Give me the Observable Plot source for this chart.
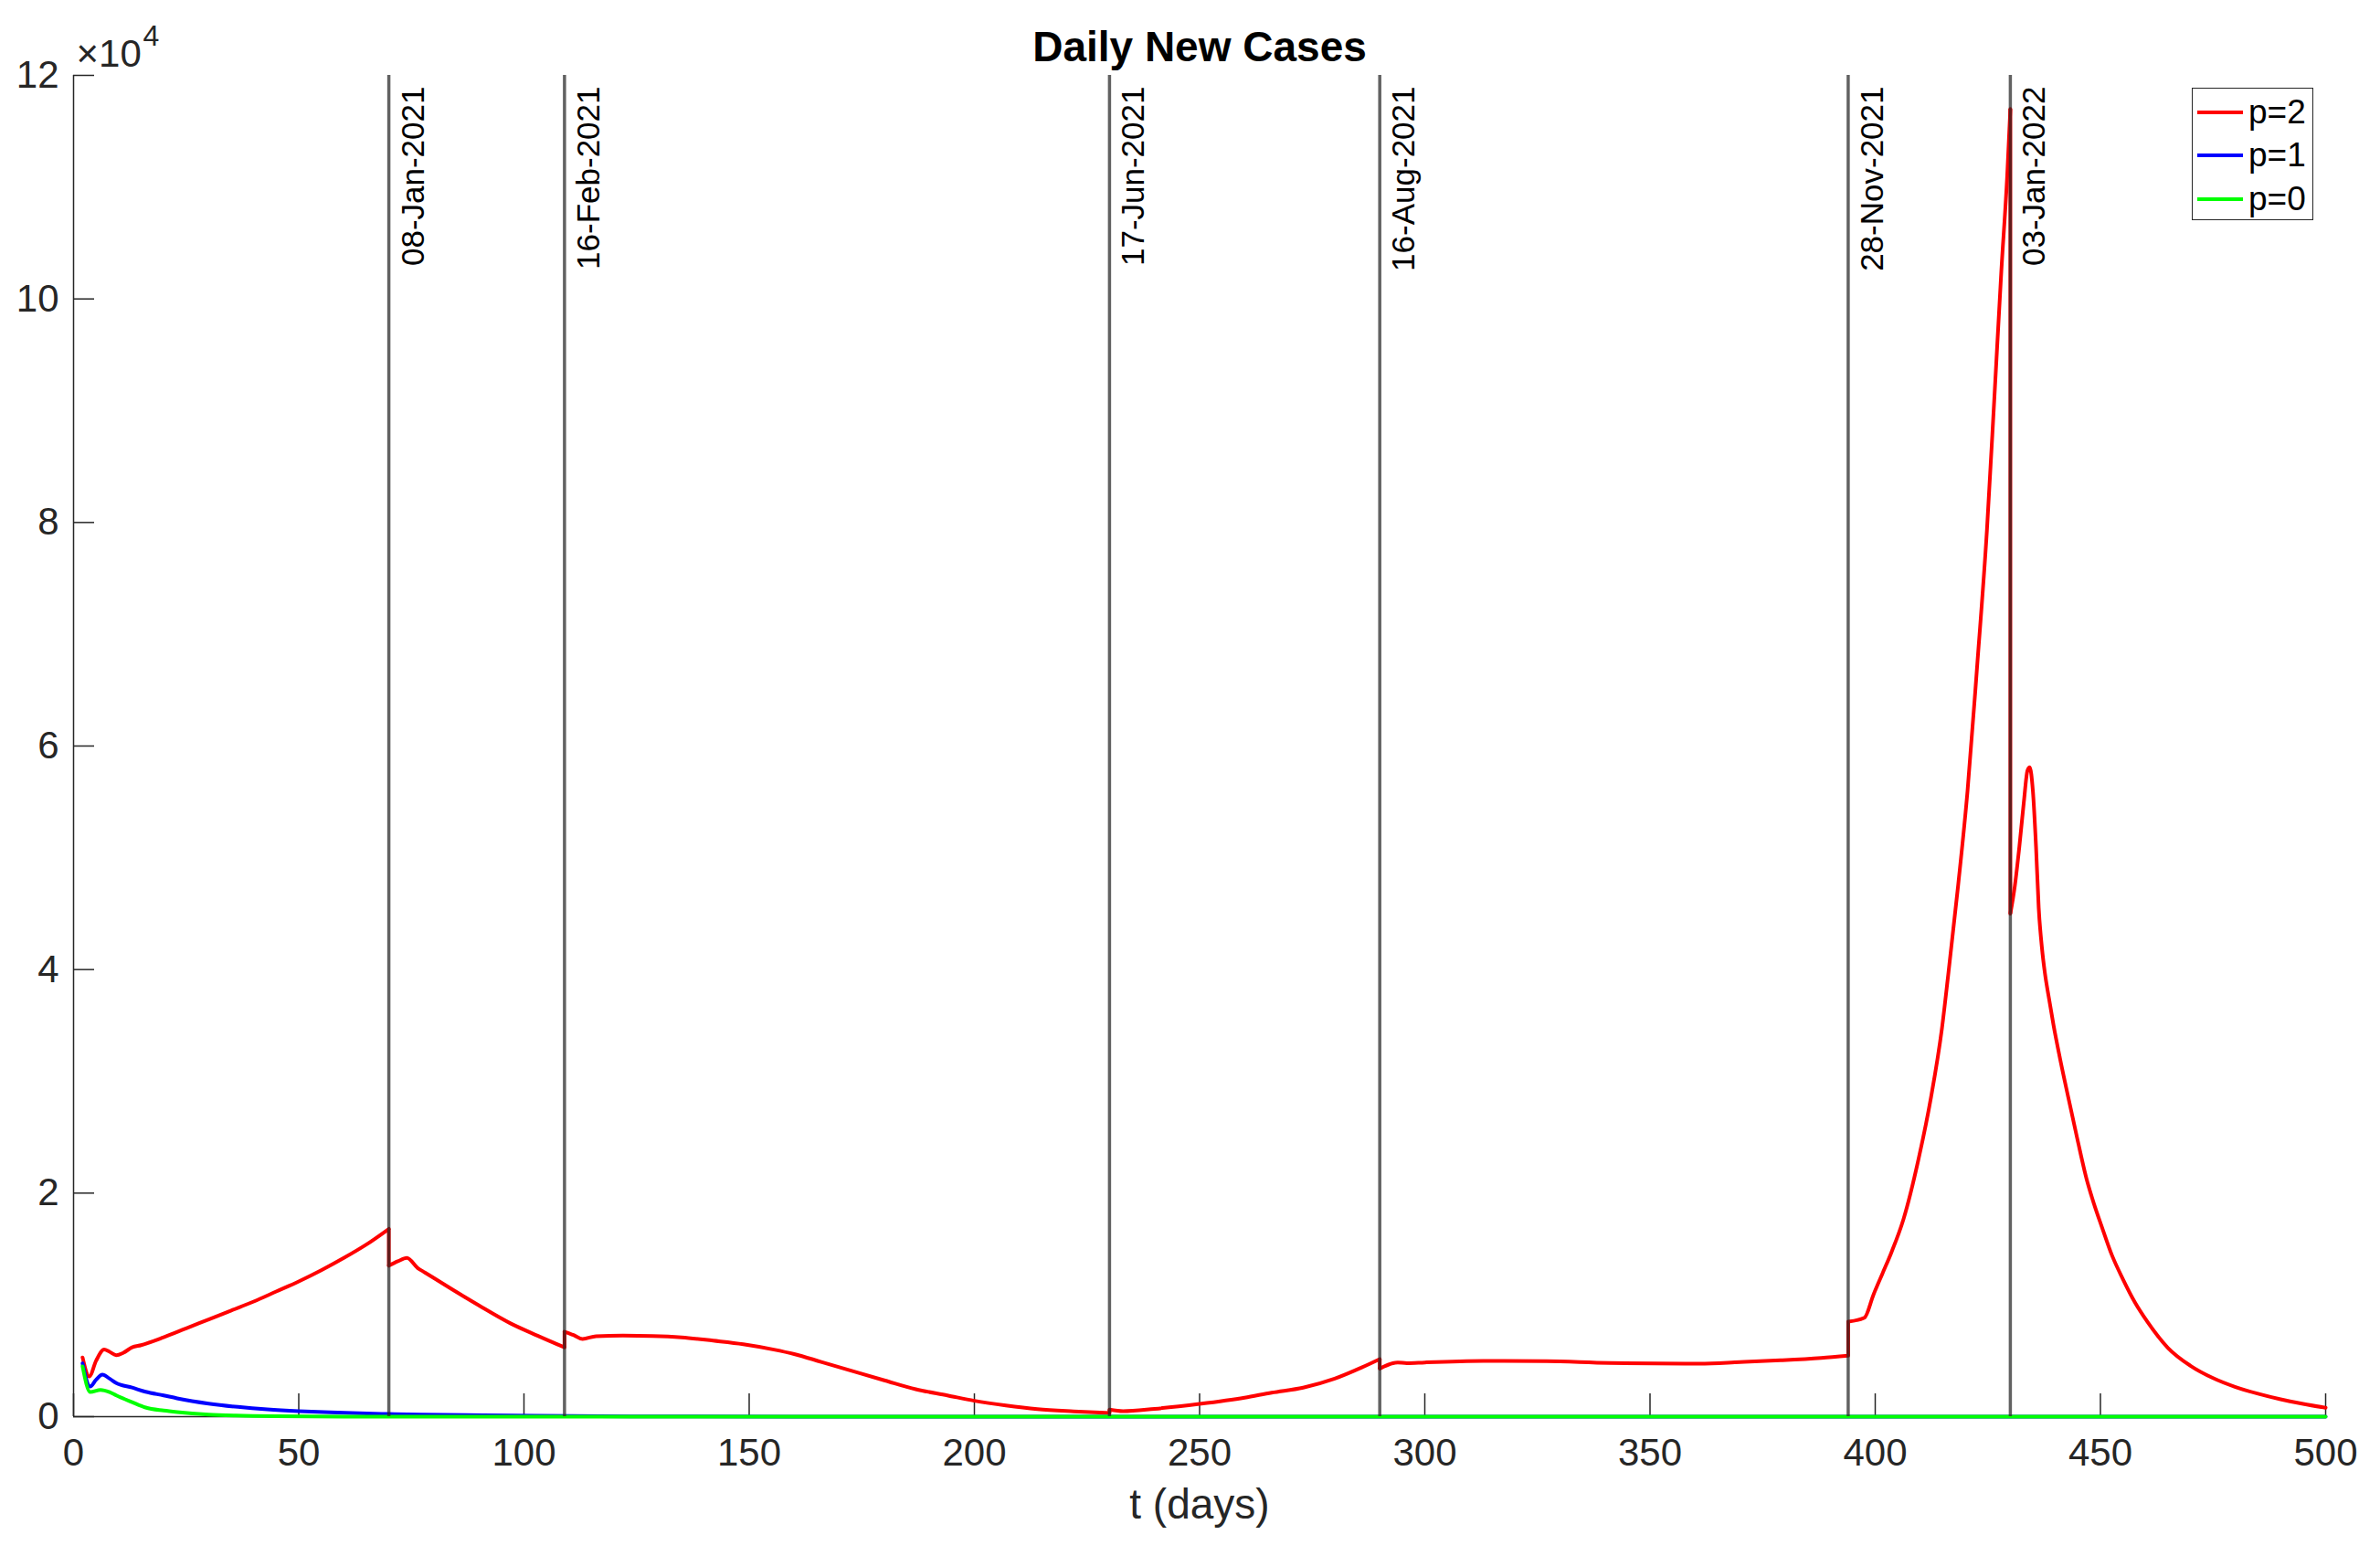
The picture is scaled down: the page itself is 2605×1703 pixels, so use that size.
<!DOCTYPE html>
<html>
<head>
<meta charset="utf-8">
<script src="https://cdn.jsdelivr.net/npm/d3@7"></script>
<script src="https://cdn.jsdelivr.net/npm/@observablehq/plot@0.6"></script>
<style>
  html, body { margin: 0; padding: 0; background: #fff; }
  #wrap { position: relative; width: 2605px; height: 1703px; font-family: "Liberation Sans", Arial, Helvetica, sans-serif; }
  #legend { position: absolute; left: 2399px; top: 96px; width: 133px; height: 145px; border: 1.5px solid #262626; background: #fff; box-sizing: border-box; }
  .lg-row { position: absolute; left: 0; height: 40px; display: flex; align-items: center; }
  .lg-sw { width: 50px; height: 4px; margin-left: 5px; margin-right: 6px; }
  .lg-tx { font-size: 37px; color: #000; line-height: 40px; }
</style>
</head>
<body>
<div id="wrap"></div>
<script>
// ---------- data ----------
const seriesNames = ["p=2", "p=1", "p=0"];
const seriesColors = ["#ff0000", "#0000ff", "#00ff00"];

const redDays = [2, 3.5, 5, 6.8, 8, 9.5, 11, 13, 15, 20, 25, 30, 35, 40, 45, 50, 55, 60, 65, 70,
  70, 72, 74, 76.4, 78, 84, 90, 97, 103, 109,
  109, 111, 113, 116, 122, 128.5, 135, 142, 148.7, 155.5, 160, 166, 174, 180, 187, 194, 200, 207, 214, 222, 230,
  230, 233, 240, 250, 260, 266, 273, 280, 286, 290,
  290, 294, 296, 300, 313, 327, 341, 361, 370, 379, 388, 394,
  394, 397.6, 399.6, 401.6, 403.6, 406.3, 409.7, 412.4, 414.8, 416.2, 418.4, 420.5, 422.6, 424.8, 426.5, 428, 429.3, 430,
  430, 431, 432, 433, 433.8, 434.3, 435, 435.7, 436.3, 437, 437.7, 438.5, 439.6, 441, 442.9, 444.9, 446.9, 448.6, 450.3, 452.5, 455, 457.7, 460.5, 465, 470, 475, 480, 485, 490, 495, 500];
const redCases = [5300, 3600, 5000, 6000, 5800, 5500, 5700, 6200, 6400, 7100, 7900, 8700, 9500, 10300, 11200, 12100, 13100, 14200, 15400, 16800,
  13500, 13900, 14200, 13300, 12900, 11400, 9950, 8350, 7250, 6200,
  7600, 7300, 6950, 7200, 7250, 7220, 7100, 6800, 6480, 6000, 5600, 4900, 3950, 3250, 2450, 1900, 1420, 1000, 680, 480, 330,
  630, 490, 700, 1140, 1700, 2150, 2600, 3400, 4400, 5150,
  4300, 4850, 4780, 4850, 4990, 4960, 4800, 4740, 4880, 5040, 5250, 5450,
  8500, 8850, 10900, 12800, 14700, 17700, 23200, 28600, 34700, 39500, 47500, 56000, 67000, 79300, 91500, 102500, 111000, 117000,
  45000, 47500, 51000, 55000, 57800, 58100, 56000, 51000, 45500, 42000, 39600, 37600, 35000, 32100, 28500, 24800, 21300, 19000, 17000, 14500, 12300, 10200, 8450, 6150, 4550, 3450, 2650, 2050, 1550, 1150, 800];

const blueDays = [2, 3.7, 5, 6.4, 8, 9.5, 13, 16, 20, 23, 30, 36.5, 43, 50, 57, 63.5, 70, 77, 87, 97, 110, 130, 160, 200, 300, 400, 500];
const blueCases = [4770, 2700, 3300, 3760, 3400, 3000, 2600, 2230, 1900, 1640, 1170, 870, 650, 490, 380, 300, 240, 190, 140, 100, 60, 20, 5, 0, 0, 0, 0];

const greenDays = [2, 3.7, 6, 8, 9.5, 13, 16, 20, 23, 30, 36, 45, 60, 80, 150, 300, 500];
const greenCases = [4500, 2200, 2400, 2200, 1900, 1300, 820, 550, 410, 190, 100, 40, 10, 0, 0, 0, 0];

const eventDays = [70, 109, 230, 290, 394, 430];
const eventLabels = ["08-Jan-2021", "16-Feb-2021", "17-Jun-2021", "16-Aug-2021", "28-Nov-2021", "03-Jan-2022"];

const xTicks = [0, 50, 100, 150, 200, 250, 300, 350, 400, 450, 500];
const yTicks = [0, 20000, 40000, 60000, 80000, 100000, 120000];

const titleText = "Daily New Cases";
const xLabelText = "t (days)";

// ---------- tables built from arrays ----------
const series = [
  {name: seriesNames[0], color: seriesColors[0], days: redDays, cases: redCases},
  {name: seriesNames[1], color: seriesColors[1], days: blueDays, cases: blueCases},
  {name: seriesNames[2], color: seriesColors[2], days: greenDays, cases: greenCases}
];
// split each series into smooth pieces at jumps (repeated day), plus vertical jump connectors
const smoothRows = [], jumpRows = [];
series.forEach(s => {
  let seg = 0;
  s.days.forEach((d, i) => {
    if (i > 0 && d === s.days[i - 1]) {
      jumpRows.push({series: s.name, key: s.name + "-j" + seg, day: d, cases: s.cases[i - 1]});
      jumpRows.push({series: s.name, key: s.name + "-j" + seg, day: d, cases: s.cases[i]});
      seg++;
    }
    smoothRows.push({series: s.name, key: s.name + "-" + seg, day: d, cases: s.cases[i]});
  });
});
const events = eventDays.map((d, i) => ({day: d, label: eventLabels[i]}));

// ---------- geometry ----------
const W = 2605, H = 1703;
const mL = 80, mR = 60, mT = 82, mB = 153;
const plotW = W - mL - mR, plotH = H - mT - mB;
const axisColor = "#262626";
const font = "Liberation Sans, Arial, Helvetica, sans-serif";

const chart = Plot.plot({
  width: W, height: H,
  marginLeft: mL, marginRight: mR, marginTop: mT, marginBottom: mB,
  x: {domain: [0, 500]},
  y: {domain: [0, 120000]},
  color: {domain: seriesNames, range: seriesColors},
  style: {fontFamily: font, background: "#fff", overflow: "visible"},
  marks: [
    // axes lines
    Plot.ruleY([0], {stroke: axisColor, strokeWidth: 1.5}),
    Plot.ruleX([0], {stroke: axisColor, strokeWidth: 1.5}),
    // inward ticks
    Plot.ruleX(xTicks, {stroke: axisColor, strokeWidth: 1.5, insetTop: plotH - 25}),
    Plot.ruleY(yTicks, {stroke: axisColor, strokeWidth: 1.5, insetRight: plotW - 23}),
    // tick labels
    Plot.axisX({ticks: xTicks, tickSize: 0, tickPadding: 24, fontSize: 42, color: axisColor, label: null}),
    Plot.axisY({ticks: yTicks, tickSize: 0, tickPadding: 16, fontSize: 42, color: axisColor, label: null, tickFormat: d => String(d / 10000)}),
    // series
    Plot.line(jumpRows, {x: "day", y: "cases", z: "key", stroke: "series", strokeWidth: 4, strokeLinecap: "butt"}),
    Plot.line(smoothRows, {x: "day", y: "cases", z: "key", stroke: "series", strokeWidth: 4, strokeLinejoin: "round", strokeLinecap: "round", curve: "monotone-x"}),
    // event lines
    Plot.ruleX(events, {x: "day", stroke: axisColor, strokeOpacity: 0.72, strokeWidth: 3.5}),
    Plot.text(events, {x: "day", text: "label", frameAnchor: "top", rotate: -90, textAnchor: "end", lineAnchor: "bottom", dx: 38, dy: 12, fontSize: 35, fill: "#000"}),
    // title, x label, exponent
    Plot.text([titleText], {text: d => d, frameAnchor: "top", lineAnchor: "bottom", dy: -16, fontSize: 46, fontWeight: "bold", fill: "#000"}),
    Plot.text([xLabelText], {text: d => d, frameAnchor: "bottom", lineAnchor: "bottom", dy: 111, fontSize: 46, fill: axisColor}),
    Plot.text(["\u00d710"], {text: d => d, frameAnchor: "top-left", textAnchor: "start", lineAnchor: "bottom", dx: 3, dy: -10, fontSize: 42, fill: axisColor}),
    Plot.text(["4"], {text: d => d, frameAnchor: "top-left", textAnchor: "start", lineAnchor: "bottom", dx: 76, dy: -33, fontSize: 32, fill: axisColor})
  ]
});

const wrap = document.getElementById("wrap");
wrap.appendChild(chart);

// legend overlay
const legend = document.createElement("div");
legend.id = "legend";
const rowTops = [6, 53, 101];
series.forEach((s, i) => {
  const r = document.createElement("div");
  r.className = "lg-row";
  r.style.top = rowTops[i] + "px";
  const sw = document.createElement("div");
  sw.className = "lg-sw";
  sw.style.background = s.color;
  const tx = document.createElement("span");
  tx.className = "lg-tx";
  tx.textContent = s.name;
  r.appendChild(sw);
  r.appendChild(tx);
  legend.appendChild(r);
});
wrap.appendChild(legend);
</script>
</body>
</html>
